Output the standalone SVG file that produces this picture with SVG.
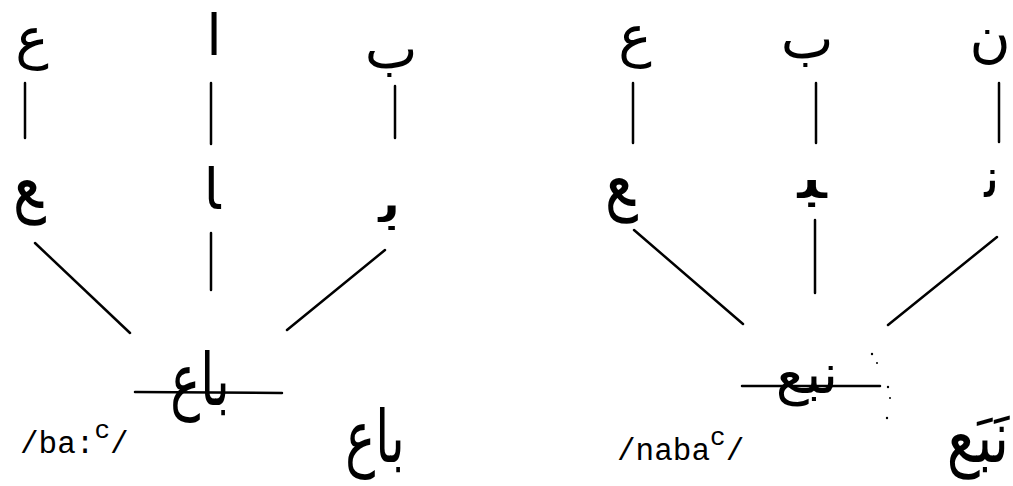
<svg xmlns="http://www.w3.org/2000/svg" width="1013" height="486" viewBox="0 0 1013 486">
<style>
.ar{font-family:"DejaVu Sans",sans-serif;font-size:56px;fill:#000;text-anchor:middle}
.tr{font-family:"Liberation Mono",monospace;font-size:31px;fill:#000}
.ln{stroke:#000;stroke-width:2.5;stroke-linecap:round;fill:none}
.dot{fill:#000}
</style>
<rect width="1013" height="486" fill="#fff"/>
<g id="connectors">
<line class="ln" x1="25" y1="83" x2="25" y2="138"/>
<line class="ln" x1="211" y1="83" x2="211" y2="144"/>
<line class="ln" x1="395" y1="86" x2="395" y2="138"/>
<line class="ln" x1="35" y1="243" x2="130" y2="333"/>
<line class="ln" x1="211" y1="233" x2="211" y2="290"/>
<line class="ln" x1="385" y1="250" x2="287" y2="330"/>
<line class="ln" x1="633" y1="83" x2="633" y2="143"/>
<line class="ln" x1="816" y1="83" x2="816" y2="143"/>
<line class="ln" x1="999" y1="83" x2="999" y2="142"/>
<line class="ln" x1="634" y1="230" x2="743" y2="324"/>
<line class="ln" x1="815" y1="220" x2="815" y2="293"/>
<line class="ln" x1="997" y1="237" x2="888" y2="325"/>
</g>
<g id="left-top">
<text class="ar" x="32" y="57" font-size="66">ع</text>
<text class="ar" x="214" y="55" font-size="38">ا</text>
<text class="ar" x="391" y="68" font-size="42">ب</text>
</g>
<g id="left-mid">
<text class="ar" font-size="64" transform="translate(28,208) scale(1,1.3)">&#x200D;ع</text>
<text class="ar" x="212" y="209" font-size="42">&#x200D;ا</text>
<text class="ar" font-size="72" transform="translate(391,222) scale(1.6,1)">ب&#x200D;</text>
</g>
<g id="left-word">
<line class="ln" x1="135" y1="392" x2="282" y2="393"/>
<text class="ar" font-size="60" transform="translate(200,405) scale(0.9,1.3)">باع</text>
<text class="tr" x="20" y="453">/ba:<tspan font-size="26" dy="-15">c</tspan><tspan dy="15">/</tspan></text>
<text class="ar" font-size="60" transform="translate(375,462) scale(0.9,1.3)">باع</text>
</g>
<g id="right-top">
<text class="ar" x="635" y="55" font-size="66">ع</text>
<text class="ar" x="807" y="58" font-size="55">ب</text>
<text class="ar" x="990" y="56" font-size="56">ن</text>
</g>
<g id="right-mid">
<text class="ar" font-size="64" transform="translate(620,206) scale(1,1.3)">&#x200D;ع</text>
<text class="ar" font-size="56" transform="translate(812,198) scale(1.7,1.1)">&#x200D;ب&#x200D;</text>
<text class="ar" x="992" y="197" font-size="60">ن&#x200D;</text>
</g>
<g id="right-word">
<line class="ln" x1="742" y1="386" x2="880" y2="386"/>
<text class="ar" x="807" y="393">نبع</text>
<circle class="dot" cx="872" cy="354" r="1.2"/>
<circle class="dot" cx="877" cy="363" r="1"/>
<circle class="dot" cx="888" cy="387" r="1.2"/>
<circle class="dot" cx="890" cy="398" r="1"/>
<circle class="dot" cx="887" cy="418" r="1.2"/>
<text class="tr" x="617" y="460">/naba<tspan font-size="26" dy="-15">c</tspan><tspan dy="15">/</tspan></text>
<text class="ar" font-size="58" transform="translate(978,462) scale(1,1.3)">نَبَع</text>
</g>
</svg>
